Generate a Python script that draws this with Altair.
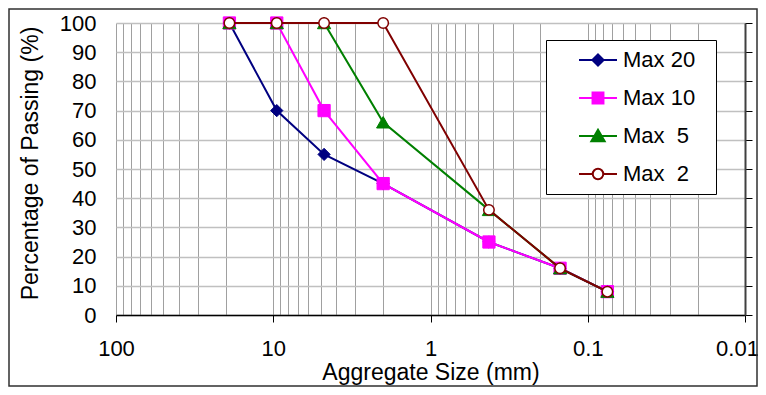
import altair as alt
import pandas as pd

# ---- data ----
sizes_mm = [19, 9.5, 4.75, 2.0, 0.425, 0.15, 0.075]
series_names = ["Max 20", "Max 10", "Max \u00a05", "Max \u00a02"]
max20 = [100, 70, 55, 45, 25, 16, 8]
max10 = [100, 100, 70, 45, 25, 16, 8]
max5 = [100, 100, 100, 66, 36, 16, 8]
max2 = [100, 100, 100, 100, 36, 16, 8]
series_values = [max20, max10, max5, max2]

x_labels = [100, 10, 1, 0.1, 0.01]
x_grid = [0.01, 0.02, 0.03, 0.04, 0.05, 0.06, 0.07, 0.08, 0.09,
          0.1, 0.2, 0.3, 0.4, 0.5, 0.6, 0.7, 0.8, 0.9,
          1, 2, 3, 4, 5, 6, 7, 8, 9,
          10, 20, 30, 40, 50, 60, 70, 80, 90, 100]
y_ticks = [0, 10, 20, 30, 40, 50, 60, 70, 80, 90, 100]

# ---- styles ----
colors = ["#000080", "#FF00FF", "#008000", "#800000"]
fills = ["#000080", "#FF00FF", "#008000", "#FFFFFF"]
shapes = ["diamond", "square", "triangle-up", "circle"]
pt_sizes = [150, 150, 175, 110]
# legend glyphs: line + marker; the trailing "M..h0" only widens the legend box
legend_paths = [
    "M-2.71,0H2.71M0,-0.8L0.8,0L0,0.8L-0.8,0ZM15,0h0",
    "M-2.71,0H2.71M-0.78,-0.78H0.78V0.78H-0.78ZM15,0h0",
    "M-2.71,0H2.71M0,-0.9L0.95,0.75H-0.95ZM15,0h0",
    "M-2.71,0H-0.75M0.75,0H2.71M-0.75,0A0.75,0.75,0,1,1,0.75,0A0.75,0.75,0,1,1,-0.75,0ZM15,0h0",
]
FONT = "Liberation Sans"

rows = []
for name, vals in zip(series_names, series_values):
    for s, v in zip(sizes_mm, vals):
        rows.append({"series": name, "size": s, "pct": v})
df = pd.DataFrame(rows)

DEC = "abs(log(datum.value)/LN10 - round(log(datum.value)/LN10)) < 0.001"
LAST = f"datum.value < {min(x_labels) * 1.1}"

xscale = alt.Scale(type="log", domain=[0.01, 100], reverse=True, nice=False)
yscale = alt.Scale(domain=[0, 100], nice=False)

x_axis = alt.Axis(
    values=x_grid, grid=True, gridColor="#a0a0a0", gridWidth=1,
    ticks=True, tickSize=7, tickWidth=1,
    tickColor={"condition": {"test": DEC, "value": "black"}, "value": "transparent"},
    labelExpr=f"{DEC} ? format(datum.value, '~g') : ''",
    labelOffset={"condition": {"test": LAST, "value": -8}, "value": 0},
    labelOverlap=False, labelFlush=False, labelFontSize=22, labelPadding=16,
    domainColor="black", domainWidth=1.5,
    title="Aggregate Size (mm)", titleFontSize=23, titleFontWeight="normal", titlePadding=2,
)
y_axis = alt.Axis(
    values=y_ticks, grid=True, gridColor="#c0c0c0", gridWidth=1.5,
    ticks=False, tickSize=0, domain=False,
    labelFontSize=22, labelPadding=20,
    title="Percentage of Passing (%)", titleFontSize=23, titleFontWeight="normal",
    titlePadding=17, titleY=140,
)
right_axis = alt.Axis(
    orient="right", values=y_ticks, labels=False, grid=False,
    domainColor="#404040", domainWidth=2, tickColor="black", tickSize=7, title=None,
)

layers = []
for name, c, f, sh, sz in zip(series_names, colors, fills, shapes, pt_sizes):
    base = alt.Chart().transform_filter(alt.datum.series == name)
    line = base.mark_line(color=c, strokeWidth=2).encode(
        x=alt.X("size:Q", scale=xscale, axis=x_axis),
        y=alt.Y("pct:Q", scale=yscale, axis=y_axis),
    )
    pts = base.mark_point(shape=sh, size=sz, fill=f, stroke=c, filled=True,
                          strokeWidth=1.5 if sh == "circle" else 1, opacity=1).encode(
        x=alt.X("size:Q", scale=xscale, axis=x_axis),
        y=alt.Y("pct:Q", scale=yscale, axis=y_axis),
    )
    layers += [line, pts]
inner = alt.layer(*layers)

leg = alt.Legend(
    title=None, orient="none", legendX=430, legendY=17, padding=9,
    strokeColor="black", fillColor="white",
    symbolSize=196, symbolStrokeWidth=2, symbolOffset=32, labelOffset=14,
    labelFontSize=22, labelFont=FONT, labelColor="black", rowPadding=16,
)
legend_layer = alt.Chart().transform_filter("datum.pct < 0").mark_point(filled=True, opacity=1).encode(
    y=alt.Y("pct:Q", scale=yscale, axis=right_axis),
    shape=alt.Shape("series:N", scale=alt.Scale(domain=series_names, range=legend_paths), legend=leg),
    fill=alt.Fill("series:N", scale=alt.Scale(domain=series_names, range=fills), legend=leg),
    stroke=alt.Stroke("series:N", scale=alt.Scale(domain=series_names, range=colors), legend=leg),
)

frame = alt.Chart(alt.Data(values=[{"v": 1}])).mark_rect(
    fill="transparent", stroke="#303030", strokeWidth=1.5
).encode(x=alt.value(-107), x2=alt.value(641), y=alt.value(-14), y2=alt.value(363))

chart = alt.layer(frame, inner, legend_layer, data=df).resolve_scale(y="independent").properties(
    width=629, height=292, autosize="none",
    padding={"left": 108, "top": 15, "right": 13, "bottom": 72},
).configure_view(stroke=None).configure_axis(
    labelFont=FONT, titleFont=FONT, labelColor="black", titleColor="black"
).configure_legend(labelFont=FONT)

chart.save("out.html", embed_options={"renderer": "svg", "actions": False})
